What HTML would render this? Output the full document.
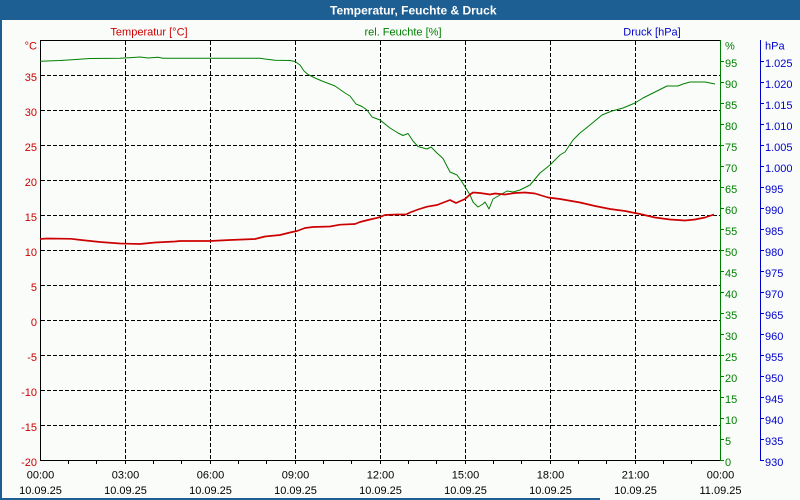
<!DOCTYPE html>
<html>
<head>
<meta charset="utf-8">
<style>
html,body{margin:0;padding:0;background:#fafcfa;}
svg{display:block;}
text{font-family:"Liberation Sans","DejaVu Sans",sans-serif;font-size:11px;}
</style>
</head>
<body>
<svg width="800" height="500" viewBox="0 0 800 500" xmlns="http://www.w3.org/2000/svg">
<rect x="0" y="0" width="800" height="500" fill="#fafcfa"/>
<!-- title bar -->
<rect x="0" y="0" width="800" height="20" fill="#1e5f93"/>
<text x="330" y="14.5" fill="#ffffff" font-weight="bold" style="font-size:12px">Temperatur, Feuchte &amp; Druck</text>
<!-- left/bottom border -->
<rect x="0" y="20" width="2" height="480" fill="#1e5f93"/>
<rect x="0" y="498" width="600" height="2" fill="#1e5f93"/>

<!-- legend -->
<text x="149" y="35.5" fill="#cc0000" text-anchor="middle">Temperatur [°C]</text>
<text x="403" y="35.5" fill="#008000" text-anchor="middle">rel. Feuchte [%]</text>
<text x="652" y="35.5" fill="#0000cc" text-anchor="middle">Druck [hPa]</text>
<text x="37" y="49.5" fill="#cc0000" text-anchor="end">°C</text>
<text x="725" y="49.5" fill="#008000">%</text>
<text x="765" y="49.5" fill="#0000cc">hPa</text>

<!-- grid -->
<g stroke="#000" stroke-width="1" stroke-dasharray="4 2" fill="none">
<line x1="125.5" y1="41" x2="125.5" y2="460"/>
<line x1="210.5" y1="41" x2="210.5" y2="460"/>
<line x1="295.5" y1="41" x2="295.5" y2="460"/>
<line x1="380.5" y1="41" x2="380.5" y2="460"/>
<line x1="465.5" y1="41" x2="465.5" y2="460"/>
<line x1="550.5" y1="41" x2="550.5" y2="460"/>
<line x1="635.5" y1="41" x2="635.5" y2="460"/>
<line x1="41" y1="75.5" x2="720" y2="75.5"/>
<line x1="41" y1="110.5" x2="720" y2="110.5"/>
<line x1="41" y1="145.5" x2="720" y2="145.5"/>
<line x1="41" y1="180.5" x2="720" y2="180.5"/>
<line x1="41" y1="215.5" x2="720" y2="215.5"/>
<line x1="41" y1="250.5" x2="720" y2="250.5"/>
<line x1="41" y1="285.5" x2="720" y2="285.5"/>
<line x1="41" y1="320.5" x2="720" y2="320.5"/>
<line x1="41" y1="355.5" x2="720" y2="355.5"/>
<line x1="41" y1="390.5" x2="720" y2="390.5"/>
<line x1="41" y1="425.5" x2="720" y2="425.5"/>
</g>

<!-- axes frame -->
<g stroke="#000" stroke-width="1" fill="none">
<line x1="40.5" y1="40" x2="40.5" y2="461"/>
<line x1="40" y1="40.5" x2="721" y2="40.5"/>
<line x1="40" y1="460.5" x2="721" y2="460.5"/>
</g>
<line x1="720.5" y1="40" x2="720.5" y2="461" stroke="#008000" stroke-width="1"/>
<line x1="760.5" y1="40" x2="760.5" y2="461" stroke="#0000cc" stroke-width="1"/>

<!-- bottom minor ticks -->
<g stroke="#000" stroke-width="1">
<line x1="68.5" y1="460" x2="68.5" y2="464"/><line x1="96.5" y1="460" x2="96.5" y2="464"/><line x1="125.5" y1="460" x2="125.5" y2="464"/>
<line x1="153.5" y1="460" x2="153.5" y2="464"/><line x1="181.5" y1="460" x2="181.5" y2="464"/><line x1="210.5" y1="460" x2="210.5" y2="464"/>
<line x1="238.5" y1="460" x2="238.5" y2="464"/><line x1="266.5" y1="460" x2="266.5" y2="464"/><line x1="295.5" y1="460" x2="295.5" y2="464"/>
<line x1="323.5" y1="460" x2="323.5" y2="464"/><line x1="351.5" y1="460" x2="351.5" y2="464"/><line x1="380.5" y1="460" x2="380.5" y2="464"/>
<line x1="408.5" y1="460" x2="408.5" y2="464"/><line x1="436.5" y1="460" x2="436.5" y2="464"/><line x1="465.5" y1="460" x2="465.5" y2="464"/>
<line x1="493.5" y1="460" x2="493.5" y2="464"/><line x1="521.5" y1="460" x2="521.5" y2="464"/><line x1="550.5" y1="460" x2="550.5" y2="464"/>
<line x1="578.5" y1="460" x2="578.5" y2="464"/><line x1="606.5" y1="460" x2="606.5" y2="464"/><line x1="635.5" y1="460" x2="635.5" y2="464"/>
<line x1="663.5" y1="460" x2="663.5" y2="464"/><line x1="691.5" y1="460" x2="691.5" y2="464"/>
</g>

<!-- left labels -->
<g fill="#cc0000" text-anchor="end">
<text x="37" y="81">35</text>
<text x="37" y="116">30</text>
<text x="37" y="151">25</text>
<text x="37" y="186">20</text>
<text x="37" y="221">15</text>
<text x="37" y="256">10</text>
<text x="37" y="291">5</text>
<text x="37" y="326">0</text>
<text x="37" y="361">-5</text>
<text x="37" y="396">-10</text>
<text x="37" y="431">-15</text>
<text x="37" y="466">-20</text>
</g>

<!-- right green ticks & labels -->
<g stroke="#008000" stroke-width="1">
<line x1="720" y1="460.5" x2="724" y2="460.5"/><line x1="720" y1="439.5" x2="724" y2="439.5"/><line x1="720" y1="418.5" x2="724" y2="418.5"/>
<line x1="720" y1="397.5" x2="724" y2="397.5"/><line x1="720" y1="376.5" x2="724" y2="376.5"/><line x1="720" y1="355.5" x2="724" y2="355.5"/>
<line x1="720" y1="334.5" x2="724" y2="334.5"/><line x1="720" y1="313.5" x2="724" y2="313.5"/><line x1="720" y1="292.5" x2="724" y2="292.5"/>
<line x1="720" y1="271.5" x2="724" y2="271.5"/><line x1="720" y1="250.5" x2="724" y2="250.5"/><line x1="720" y1="229.5" x2="724" y2="229.5"/>
<line x1="720" y1="208.5" x2="724" y2="208.5"/><line x1="720" y1="187.5" x2="724" y2="187.5"/><line x1="720" y1="166.5" x2="724" y2="166.5"/>
<line x1="720" y1="145.5" x2="724" y2="145.5"/><line x1="720" y1="124.5" x2="724" y2="124.5"/><line x1="720" y1="103.5" x2="724" y2="103.5"/>
<line x1="720" y1="82.5" x2="724" y2="82.5"/><line x1="720" y1="61.5" x2="724" y2="61.5"/>
</g>
<g fill="#008000">
<text x="725" y="466">0</text><text x="725" y="445">5</text><text x="725" y="424">10</text><text x="725" y="403">15</text>
<text x="725" y="382">20</text><text x="725" y="361">25</text><text x="725" y="340">30</text><text x="725" y="319">35</text>
<text x="725" y="298">40</text><text x="725" y="277">45</text><text x="725" y="256">50</text><text x="725" y="235">55</text>
<text x="725" y="214">60</text><text x="725" y="193">65</text><text x="725" y="172">70</text><text x="725" y="151">75</text>
<text x="725" y="130">80</text><text x="725" y="109">85</text><text x="725" y="88">90</text><text x="725" y="67">95</text>
</g>

<!-- right blue ticks & labels -->
<g stroke="#0000cc" stroke-width="1">
<line x1="760" y1="460.5" x2="764" y2="460.5"/><line x1="760" y1="439.5" x2="764" y2="439.5"/><line x1="760" y1="418.5" x2="764" y2="418.5"/>
<line x1="760" y1="397.5" x2="764" y2="397.5"/><line x1="760" y1="376.5" x2="764" y2="376.5"/><line x1="760" y1="355.5" x2="764" y2="355.5"/>
<line x1="760" y1="334.5" x2="764" y2="334.5"/><line x1="760" y1="313.5" x2="764" y2="313.5"/><line x1="760" y1="292.5" x2="764" y2="292.5"/>
<line x1="760" y1="271.5" x2="764" y2="271.5"/><line x1="760" y1="250.5" x2="764" y2="250.5"/><line x1="760" y1="229.5" x2="764" y2="229.5"/>
<line x1="760" y1="208.5" x2="764" y2="208.5"/><line x1="760" y1="187.5" x2="764" y2="187.5"/><line x1="760" y1="166.5" x2="764" y2="166.5"/>
<line x1="760" y1="145.5" x2="764" y2="145.5"/><line x1="760" y1="124.5" x2="764" y2="124.5"/><line x1="760" y1="103.5" x2="764" y2="103.5"/>
<line x1="760" y1="82.5" x2="764" y2="82.5"/><line x1="760" y1="61.5" x2="764" y2="61.5"/>
</g>
<g fill="#0000cc">
<text x="765" y="466">930</text><text x="765" y="445">935</text><text x="765" y="424">940</text><text x="765" y="403">945</text>
<text x="765" y="382">950</text><text x="765" y="361">955</text><text x="765" y="340">960</text><text x="765" y="319">965</text>
<text x="765" y="298">970</text><text x="765" y="277">975</text><text x="765" y="256">980</text><text x="765" y="235">985</text>
<text x="765" y="214">990</text><text x="765" y="193">995</text><text x="765" y="172">1.000</text><text x="765" y="151">1.005</text>
<text x="765" y="130">1.010</text><text x="765" y="109">1.015</text><text x="765" y="88">1.020</text><text x="765" y="67">1.025</text>
</g>

<!-- bottom labels -->
<g fill="#000" text-anchor="middle">
<text x="40.5" y="478.5">00:00</text><text x="40.5" y="494">10.09.25</text>
<text x="125.5" y="478.5">03:00</text><text x="125.5" y="494">10.09.25</text>
<text x="210.5" y="478.5">06:00</text><text x="210.5" y="494">10.09.25</text>
<text x="295.5" y="478.5">09:00</text><text x="295.5" y="494">10.09.25</text>
<text x="380.5" y="478.5">12:00</text><text x="380.5" y="494">10.09.25</text>
<text x="465.5" y="478.5">15:00</text><text x="465.5" y="494">10.09.25</text>
<text x="550.5" y="478.5">18:00</text><text x="550.5" y="494">10.09.25</text>
<text x="635.5" y="478.5">21:00</text><text x="635.5" y="494">10.09.25</text>
<text x="720.5" y="478.5">00:00</text><text x="720.5" y="494">11.09.25</text>
</g>

<!-- humidity -->
<polyline fill="none" stroke="#008000" stroke-width="1" stroke-linejoin="round" points="40,61.3 47,61 60,60.5 72,59.7 90,58.5 120,58.2 133,57.5 140,57 148,58 158,57.2 163,58.2 260,58.2 265,59 275,60.2 290,60.5 295,61.5 300,65 304,71 308,74.5 315,78 322,81 335,86 345,93 350,96 356,104 362,106.5 367,110 372,117 380,120 390,128 398,133 403,135.5 408,133.5 413,141 418,146.5 427,149 431,147 437,153 443,158.5 450,172 457,175 462,182 467,190 470,195 473,202 478,207 483,204 485,202 489,209 493,199 500,195 507,191 513,192 520,190 530,185 540,173 550,165 560,155 565,152 573,140 580,133 590,125 602,115 612,111 623,108 635,103 643,98 655,92 667,86 678,86 683,84 690,82 705,82 710,83 715,84"/>

<!-- temperature -->
<polyline fill="none" stroke="#cc0000" stroke-width="1.7" stroke-linejoin="round" points="40,239 47,238.5 71,238.8 81,240 100,242 120,243.5 140,244 155,242.5 175,241.5 180,241 210,241 230,240 255,239 265,236.5 280,235 290,232.5 297,231 305,228 313,227 330,226.5 340,224.7 355,224 360,222 370,219.5 378,217.7 385,215 397,214.5 406,214.5 410,212.5 418,209.5 427,206.7 437,205 450,200 456,203 465,199 470,194.5 473,192.5 480,193 490,194.5 495,193.5 505,194.5 515,193 525,192.5 535,193.5 548,197.5 560,199 580,202.5 595,206 610,209 625,211 640,214 655,217.5 670,219.5 685,220.5 695,219.5 705,217.5 714,214.5"/>
</svg>
</body>
</html>
